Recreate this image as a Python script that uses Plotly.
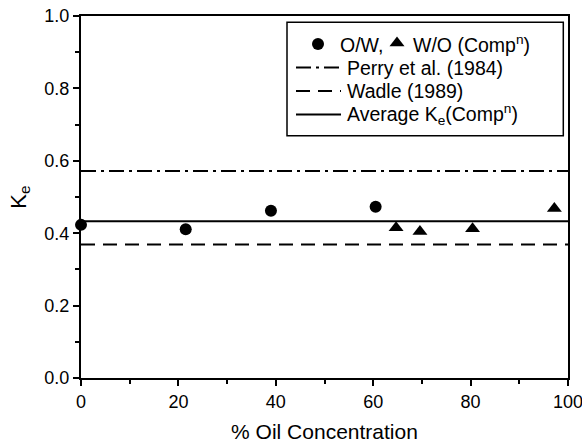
import plotly.graph_objects as go

# ---- data ----
ow_x = [0, 21.5, 39, 60.5]
ow_y = [0.423, 0.411, 0.462, 0.473]
wo_x = [64.7, 69.6, 80.4, 97.2]
wo_y = [0.415, 0.405, 0.412, 0.468]
line_x = [0, 100]
perry_k = 0.572
wadle_k = 0.369
avg_k = 0.433

x_ticks = [0, 20, 40, 60, 80, 100]
y_ticks = [0.0, 0.2, 0.4, 0.6, 0.8, 1.0]
y_tick_labels = ["0.0", "0.2", "0.4", "0.6", "0.8", "1.0"]

FONT = "Arial, Liberation Sans, sans-serif"
DASHDOT = "15px,5px,3px,5px"
DASH = "14px,8px"

fig = go.Figure()

fig.add_trace(go.Scatter(x=line_x, y=[perry_k] * 2, mode="lines",
                         line=dict(color="black", width=2, dash=DASHDOT), showlegend=False))
fig.add_trace(go.Scatter(x=line_x, y=[wadle_k] * 2, mode="lines",
                         line=dict(color="black", width=2, dash=DASH), showlegend=False))
fig.add_trace(go.Scatter(x=line_x, y=[avg_k] * 2, mode="lines",
                         line=dict(color="black", width=2), showlegend=False))
fig.add_trace(go.Scatter(x=ow_x, y=ow_y, mode="markers", cliponaxis=False,
                         marker=dict(symbol="circle", size=12, color="black"), showlegend=False))
fig.add_trace(go.Scatter(x=wo_x, y=wo_y, mode="markers", cliponaxis=False,
                         marker=dict(symbol="triangle-up", size=13, color="black"), showlegend=False))

# ---- hand-built legend (paper coordinates via overlay axes) ----
L, R, T, B = 81, 14, 16, 65
W, H = 582, 443
PW, PH = W - L - R, H - T - B


def px(x):
    return (x - L) / PW


def py(y):
    return (H - B - y) / PH


rows = [44, 67.5, 91, 114.5]
fig.add_trace(go.Scatter(x=[px(318)], y=[py(rows[0])], xaxis="x2", yaxis="y2", mode="markers",
                         marker=dict(symbol="circle", size=12, color="black"), showlegend=False,
                         cliponaxis=False))
fig.add_trace(go.Scatter(x=[px(397)], y=[py(rows[0]) + 0.003], xaxis="x2", yaxis="y2", mode="markers",
                         marker=dict(symbol="triangle-up", size=13, color="black"), showlegend=False,
                         cliponaxis=False))

shapes = [
    dict(type="rect", xref="paper", yref="paper", x0=px(287), x1=px(563.3), y0=py(135.7), y1=py(22.3),
         line=dict(color="black", width=1.5), fillcolor="white", layer="below"),
]
for r, d in [(rows[1], DASHDOT), (rows[2], DASH), (rows[3], "solid")]:
    shapes.append(dict(type="line", xref="paper", yref="paper", x0=px(296), x1=px(341),
                       y0=py(r), y1=py(r), line=dict(color="black", width=2, dash=d)))

ann_font = dict(family=FONT, size=19.5, color="black")
annotations = [
    dict(text="O/W,<sup> </sup>", x=px(338), y=py(rows[0])),
    dict(text="W/O (Comp<sup>n</sup>)", x=px(411), y=py(rows[0])),
    dict(text="Perry et al. (1984)", x=px(345), y=py(rows[1])),
    dict(text="Wadle (1989)", x=px(345), y=py(rows[2])),
    dict(text="Average K<sub>e</sub>(Comp<sup>n</sup>)", x=px(345), y=py(rows[3])),
]
for a in annotations:
    a.update(xref="paper", yref="paper", xanchor="left", yanchor="middle", showarrow=False, font=ann_font)

fig.update_layout(
    width=W, height=H,
    margin=dict(l=L, r=R, t=T, b=B, autoexpand=False),
    paper_bgcolor="white", plot_bgcolor="white",
    font=dict(family=FONT, color="black"),
    showlegend=False,
    shapes=shapes,
    annotations=annotations,
    xaxis=dict(range=[0, 100], tickvals=x_ticks, ticks="outside", ticklen=6, tickwidth=1.5,
               tickcolor="black", showgrid=False, zeroline=False, showline=True, linewidth=2,
               linecolor="black", mirror=True, tickfont=dict(size=18), ticklabeloverflow="allow",
               automargin=False,
               minor=dict(dtick=10, ticks="outside", ticklen=4, tickwidth=1.5, tickcolor="black",
                          showgrid=False),
               title=dict(text="% Oil Concentration", font=dict(size=21), standoff=20)),
    yaxis=dict(range=[0, 1], tickvals=y_ticks, ticktext=y_tick_labels, ticks="outside", ticklen=6,
               tickwidth=1.5, tickcolor="black", showgrid=False, zeroline=False, showline=True,
               linewidth=2, linecolor="black", mirror=True, tickfont=dict(size=18),
               automargin=False,
               minor=dict(dtick=0.1, ticks="outside", ticklen=4, tickwidth=1.5, tickcolor="black",
                          showgrid=False),
               title=dict(text="K<sub>e</sub>", font=dict(size=22), standoff=12)),
    xaxis2=dict(overlaying="x", range=[0, 1], visible=False),
    yaxis2=dict(overlaying="y", range=[0, 1], visible=False),
)

fig.write_html("out.html")
